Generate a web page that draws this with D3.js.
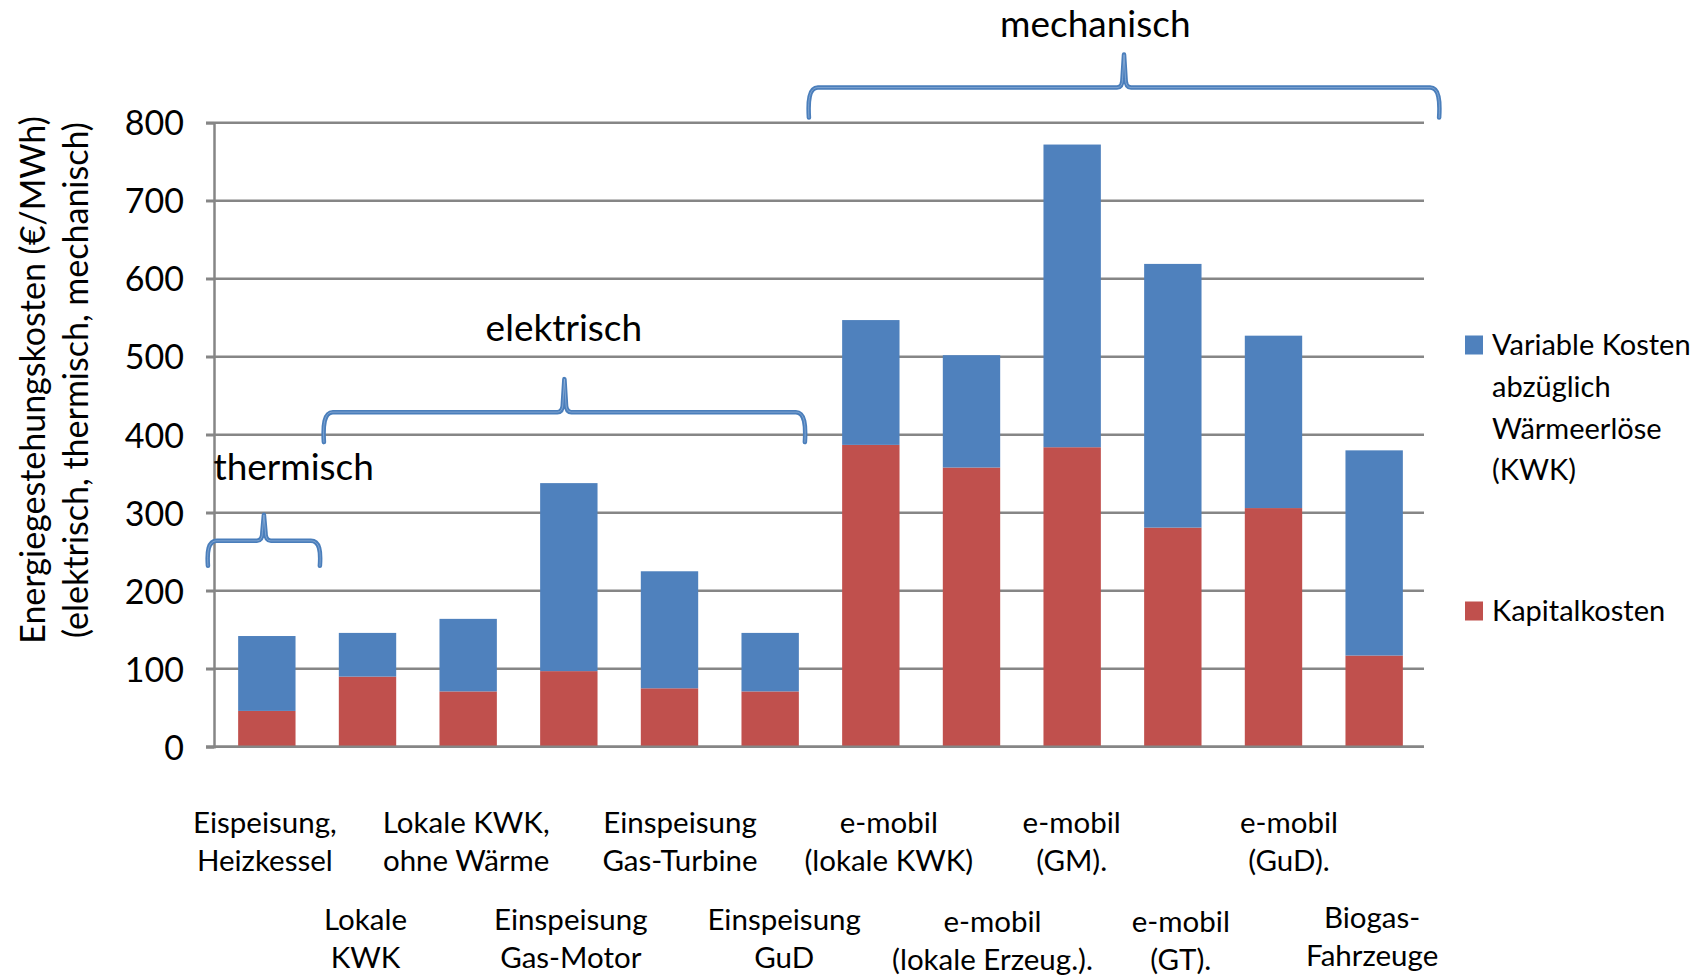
<!DOCTYPE html>
<html><head><meta charset="utf-8">
<script src="https://cdn.jsdelivr.net/npm/d3@7"></script>
<style>
body{margin:0;background:#fff}
svg{display:block}
text{font-family:Lato, "Open Sans", sans-serif; fill:#000}
</style>
</head><body>
<svg id="chart" width="1702" height="977"></svg>
<script>
// ---- data ----
const categories = [
  ["Eispeisung,", "Heizkessel"],
  ["Lokale", "KWK"],
  ["Lokale KWK,", "ohne Wärme"],
  ["Einspeisung", "Gas-Motor"],
  ["Einspeisung", "Gas-Turbine"],
  ["Einspeisung", "GuD"],
  ["e-mobil", "(lokale KWK)"],
  ["e-mobil", "(lokale Erzeug.)."],
  ["e-mobil", "(GM)."],
  ["e-mobil", "(GT)."],
  ["e-mobil", "(GuD)."],
  ["Biogas-", "Fahrzeuge"]
];
const kapitalkosten  = [46, 90, 71, 97, 75, 71, 387, 358, 384, 281, 306, 117];
const variableKosten = [96, 56, 93, 241, 150, 75, 160, 144, 388, 338, 221, 263];
const yTicks = [0, 100, 200, 300, 400, 500, 600, 700, 800];
const seriesNames = [["Variable Kosten", "abzüglich", "Wärmeerlöse", "(KWK)"], ["Kapitalkosten"]];
const yTitle = ["Energiegestehungskosten (€/MWh)", "(elektrisch, thermisch, mechanisch)"];
// group annotations (category-index units / value units)
const groupLabels = ["thermisch", "elektrisch", "mechanisch"];
const groupStart  = [-0.06, 1.09, 5.90];
const groupEnd    = [1.05, 5.86, 12.15];
const groupLevel  = [264, 429, 845];
const labelPos    = [0.79, 3.47, 8.74];
const labelLevel  = [359, 537, 927];

// ---- layout ----
const svg = d3.select("#chart");
const L = 214, R = 1424, T = 122.7, B = 746.8;
const colBlue = "#4f81bd", colRed = "#c0504d", grid = "#868686", braceCol = "#4a7ebb";
// label layout tweaks (px), mimicking the original's wrapped label placement
const labelDX = [-2, -2, -2, 2, 10.5, 14, 18, 21, -0.5, 8, 15.5, -2];
const labelDY = [0, 0, 0, 0, 0, 0, 0, 2, 0, 2, 0, -2];

const x = d3.scaleBand().domain(d3.range(categories.length)).range([L + 1.5, R + 1.5])
  .paddingInner(0.43).paddingOuter(0.225);
const xu = d3.scaleLinear().domain([0, categories.length]).range([L, R]);
const y = d3.scaleLinear().domain([0, 800]).range([B, T]);

// gridlines
svg.append("g").selectAll("line").data(yTicks).join("line")
  .attr("x1", L - 8).attr("x2", R)
  .attr("y1", d => y(d)).attr("y2", d => y(d))
  .attr("stroke", grid).attr("stroke-width", 2.5);

// y axis
const yAxis = svg.append("g").attr("transform", `translate(${L},0)`)
  .call(d3.axisLeft(y).tickValues(yTicks).tickSize(8).tickPadding(22));
yAxis.select(".domain").attr("stroke", grid).attr("stroke-width", 2.5);
yAxis.selectAll(".tick line").attr("stroke", grid).attr("stroke-width", 2.5);
yAxis.selectAll(".tick text").attr("font-size", 34).attr("font-family", "Lato").attr("fill", "#000").attr("dy", "0.36em");

// stacked bars
const stackData = categories.map((c, i) => ({i, kap: kapitalkosten[i], varc: variableKosten[i]}));
const stack = d3.stack().keys(["kap", "varc"])(stackData);
const colors = [colRed, colBlue];
svg.append("g").selectAll("g").data(stack).join("g")
  .attr("fill", (d, k) => colors[k])
  .selectAll("rect").data(d => d).join("rect")
  .attr("x", d => x(d.data.i))
  .attr("width", x.bandwidth())
  .attr("y", d => y(d[1]))
  .attr("height", d => y(d[0]) - y(d[1]));

// x axis baseline
svg.append("line").attr("x1", L - 8).attr("x2", R).attr("y1", y(0)).attr("y2", y(0))
  .attr("stroke", grid).attr("stroke-width", 2.5);

// category labels (staggered)
const rowY = [[822.8, 860.8], [919.4, 957.4]];
const catG = svg.append("g");
categories.forEach((lines, i) => {
  const row = i % 2;
  const cx = x(i) + x.bandwidth() / 2 + labelDX[i];
  lines.forEach((t, j) => {
    catG.append("text").attr("x", cx).attr("y", rowY[row][j] + labelDY[i]).attr("dy", "0.36em")
      .attr("text-anchor", "middle").attr("font-size", 29.5).text(t);
  });
});

// y title
const yt = svg.append("g").attr("transform", "translate(0,380) rotate(-90)");
yTitle.forEach((t, j) => {
  yt.append("text").attr("x", 0).attr("y", j === 0 ? 33 : 76).attr("dy", "0.36em")
    .attr("text-anchor", "middle").attr("font-size", 34).text(t);
});

// legend
const legItems = [{c: colBlue, y0: 345, lines: seriesNames[0]}, {c: colRed, y0: 611, lines: seriesNames[1]}];
const leg = svg.append("g");
legItems.forEach(it => {
  leg.append("rect").attr("x", 1465).attr("y", it.y0 - 9.5).attr("width", 18).attr("height", 19).attr("fill", it.c);
  it.lines.forEach((t, j) => {
    leg.append("text").attr("x", 1492).attr("y", it.y0 + j * 41.6).attr("dy", "0.36em")
      .attr("font-size", 29).text(t);
  });
});

// braces
function bracePath(x0, x1, yH, drop, peak) {
  const xp = (x0 + x1) / 2, r = 9;
  return `M${x0},${yH + drop}` +
    `C${x0 - 1},${yH + drop * 0.45} ${x0},${yH} ${x0 + r},${yH}` +
    `L${xp - 7},${yH}` +
    `Q${xp - 1.5},${yH} ${xp - 1.5},${yH - 9}` +
    `L${xp},${yH - peak}` +
    `L${xp + 1.5},${yH - 9}` +
    `Q${xp + 1.5},${yH} ${xp + 7},${yH}` +
    `L${x1 - r},${yH}` +
    `C${x1},${yH} ${x1 + 1},${yH + drop * 0.45} ${x1},${yH + drop}`;
}
const bg = svg.append("g").attr("fill", "none").attr("stroke-linecap", "round").attr("stroke-linejoin", "round");
groupLabels.forEach((lab, k) => {
  const drop = k === 0 ? 25 : 30, peak = k === 0 ? 26 : 33;
  const p = bracePath(xu(groupStart[k]), xu(groupEnd[k]), y(groupLevel[k]), drop, peak);
  bg.append("path").attr("d", p).attr("stroke", braceCol).attr("stroke-width", 4.5);
  bg.append("path").attr("d", p).attr("stroke", "#a9c2e2").attr("stroke-width", 0.8).attr("opacity", 0.7);
  svg.append("text").attr("x", xu(labelPos[k])).attr("y", y(labelLevel[k])).attr("dy", "0.36em")
    .attr("text-anchor", "middle").attr("font-size", 37).text(lab);
});
</script>
</body></html>
